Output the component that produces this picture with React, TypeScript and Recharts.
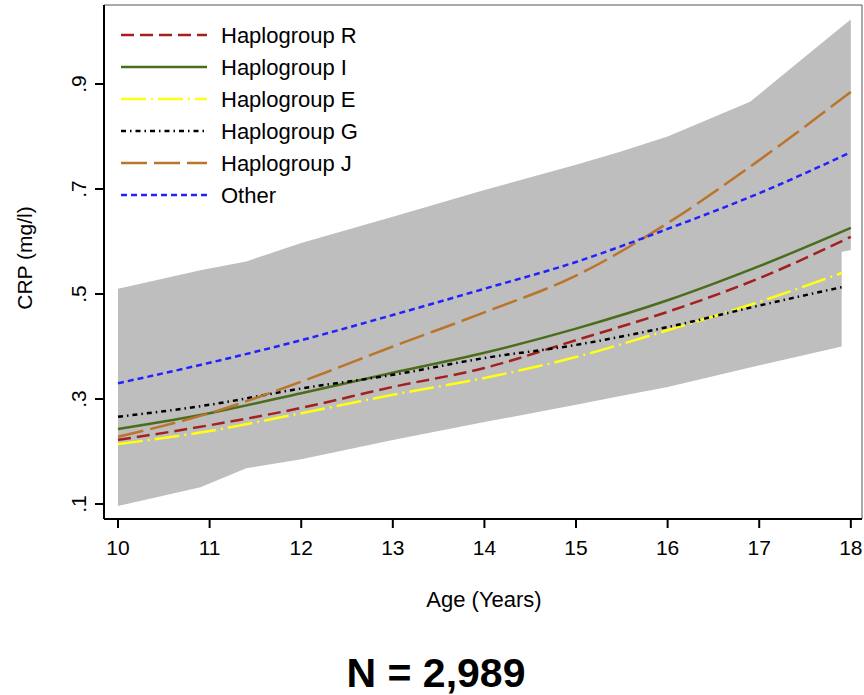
import React from 'react';
import { ComposedChart, Area, Line, XAxis, YAxis, ReferenceLine } from 'recharts';

// ages of the fitted curves (G and E stop a little before 18)
const AGES = [10, 11, 12, 13, 14, 15, 16, 17, 18];
const AGES_SHORT = [10, 11, 12, 13, 14, 15, 16, 17, 17.9];

const HAPLO_R = [0.222, 0.25, 0.283, 0.323, 0.359, 0.412, 0.466, 0.53, 0.609];
const HAPLO_I = [0.243, 0.273, 0.311, 0.35, 0.388, 0.434, 0.488, 0.553, 0.626];
const HAPLO_E = [0.214, 0.239, 0.273, 0.308, 0.34, 0.38, 0.431, 0.485, 0.54];
const HAPLO_G = [0.266, 0.289, 0.32, 0.346, 0.378, 0.403, 0.437, 0.478, 0.513];
const HAPLO_J = [0.228, 0.273, 0.333, 0.4, 0.465, 0.535, 0.635, 0.755, 0.885];
const OTHER = [0.33, 0.369, 0.412, 0.46, 0.51, 0.561, 0.624, 0.692, 0.77];

// grey confidence band (union of the group bands)
const BAND_AGES = [10, 10.9, 11.4, 12, 13, 14, 15, 15.5, 16, 16.9, 17.9, 17.9, 18];
const BAND_LOW = [0.096, 0.132, 0.168, 0.185, 0.222, 0.256, 0.289, 0.306, 0.323, 0.36, 0.4, 0.58, 0.584];
const BAND_HIGH = [0.51, 0.545, 0.562, 0.597, 0.647, 0.698, 0.746, 0.772, 0.8, 0.866, 1.009, 1.009, 1.023];

const X_TICKS = [10, 11, 12, 13, 14, 15, 16, 17, 18];
const Y_TICKS = [0.1, 0.3, 0.5, 0.7, 0.9];

const X_MIN = 9.847;
const X_MAX = 18.122;
const Y_MIN = 0.0714;
const Y_MAX = 1.0505;

const FONT = '"Liberation Sans", Arial, sans-serif';

const toRows = (ages: number[], vals: number[]) => ages.map((age, i) => ({ age, crp: vals[i] }));

const bandData = BAND_AGES.map((age, i) => ({ age, range: [BAND_LOW[i], BAND_HIGH[i]] }));

const series = [
  { name: 'Haplogroup R', data: toRows(AGES, HAPLO_R), color: '#a3201f', dash: '13 6' },
  { name: 'Haplogroup I', data: toRows(AGES, HAPLO_I), color: '#4a6d1c', dash: undefined },
  { name: 'Haplogroup E', data: toRows(AGES_SHORT, HAPLO_E), color: '#ffff14', dash: '25 5 2 5' },
  { name: 'Haplogroup G', data: toRows(AGES_SHORT, HAPLO_G), color: '#000000', dash: '5 4 1.5 4' },
  { name: 'Haplogroup J', data: toRows(AGES, HAPLO_J), color: '#bb742c', dash: '26 7' },
  { name: 'Other', data: toRows(AGES, OTHER), color: '#2222ff', dash: '6 4' },
];

const fmtY = (v: number) => v.toFixed(1).replace(/^0/, '');

const YTick = (props: any) => {
  const { x, y, payload } = props;
  return (
    <text
      x={x}
      y={y}
      transform={`rotate(-90 ${x} ${y})`}
      textAnchor="middle"
      fontSize={21}
      fontFamily={FONT}
      fill="#000"
    >
      {fmtY(payload.value)}
    </text>
  );
};

export default function App() {
  return (
    <div style={{ position: 'relative', width: 864, height: 695, fontFamily: FONT }}>
      <style>{'html,body{margin:0;padding:0;overflow:hidden}'}</style>
      <ComposedChart width={864} height={695} margin={{ top: 5, right: 2, left: 0, bottom: 0 }}>
        <XAxis
          dataKey="age"
          type="number"
          domain={[X_MIN, X_MAX]}
          ticks={X_TICKS}
          allowDuplicatedCategory={false}
          height={176}
          tickSize={9}
          tickMargin={12}
          axisLine={{ stroke: '#000', strokeWidth: 2 }}
          tickLine={{ stroke: '#000', strokeWidth: 2 }}
          tick={{ fill: '#000', fontSize: 21, fontFamily: FONT }}
        />
        <YAxis
          type="number"
          domain={[Y_MIN, Y_MAX]}
          ticks={Y_TICKS}
          width={104}
          tickSize={9}
          tickMargin={9}
          axisLine={{ stroke: '#000', strokeWidth: 2 }}
          tickLine={{ stroke: '#000', strokeWidth: 2 }}
          tick={<YTick />}
        />
        <Area
          data={bandData}
          dataKey="range"
          type="linear"
          stroke="none"
          fill="#bebebe"
          fillOpacity={1}
          isAnimationActive={false}
        />
        {series.map((s) => (
          <Line
            key={s.name}
            data={s.data}
            dataKey="crp"
            name={s.name}
            type="monotone"
            stroke={s.color}
            strokeWidth={2.5}
            strokeDasharray={s.dash}
            dot={false}
            isAnimationActive={false}
          />
        ))}
        <ReferenceLine y={Y_MAX} stroke="#555" strokeWidth={1} />
        <ReferenceLine x={X_MAX} stroke="#555" strokeWidth={1} />
      </ComposedChart>

      <svg
        width={864}
        height={695}
        style={{ position: 'absolute', left: 0, top: 0, pointerEvents: 'none' }}
      >
        {series.map((s, i) => {
          const y = 35 + i * 32;
          return (
            <g key={s.name}>
              <line x1={121} x2={207} y1={y} y2={y} stroke={s.color} strokeWidth={2.5} strokeDasharray={s.dash} />
              <text x={221} y={y + 8} fontSize={22} fontFamily={FONT} fill="#000">
                {s.name}
              </text>
            </g>
          );
        })}
        <text
          x={32}
          y={258}
          transform="rotate(-90 32 258)"
          textAnchor="middle"
          fontSize={21}
          fontFamily={FONT}
          fill="#000"
        >
          CRP (mg/l)
        </text>
        <text x={484} y={607} textAnchor="middle" fontSize={22} fontFamily={FONT} fill="#000">
          Age (Years)
        </text>
        <text x={436} y={687} textAnchor="middle" fontSize={41} fontWeight="bold" fontFamily={FONT} fill="#000">
          N = 2,989
        </text>
      </svg>
    </div>
  );
}
